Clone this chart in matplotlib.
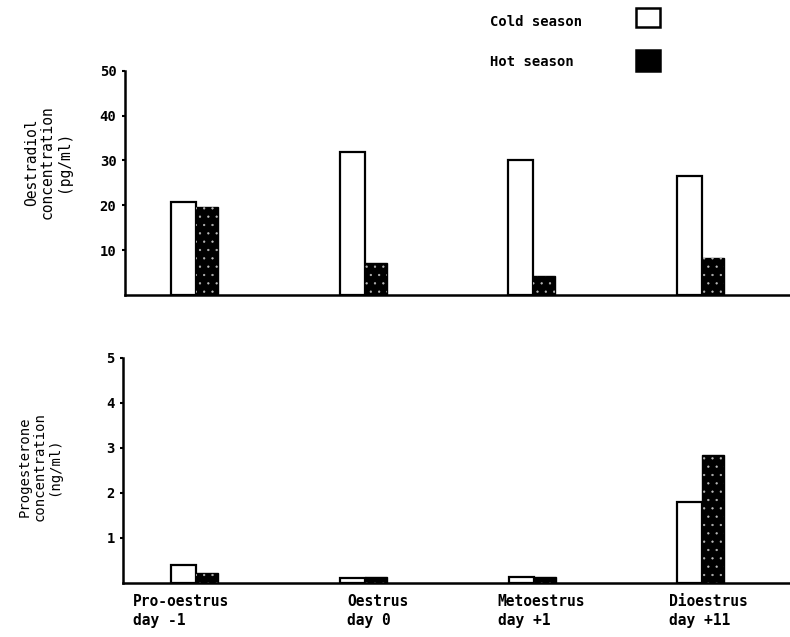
import matplotlib
matplotlib.use("Agg")
import matplotlib.pyplot as plt
from matplotlib.patches import Rectangle
import numpy as np

categories = ["Pro-oestrus\nday -1", "Oestrus\nday 0", "Metoestrus\nday +1", "Dioestrus\nday +11"]
oestradiol_cold = [20.7, 31.8, 30.0, 26.5]
oestradiol_hot = [19.5, 7.2, 4.3, 8.3]
progesterone_cold = [0.40, 0.10, 0.13, 1.80]
progesterone_hot = [0.22, 0.12, 0.14, 2.85]
top_ticks = [10, 20, 30, 40, 50]
bottom_ticks = [1, 2, 3, 4, 5]

FONT = "DejaVu Sans Mono"
plt.rcParams["hatch.linewidth"] = 0.4

fig = plt.figure(figsize=(7.9, 6.37), dpi=100)
ax1 = fig.add_axes([0.158, 0.537, 0.842, 0.352])
ax2 = fig.add_axes([0.156, 0.085, 0.844, 0.353])

x = np.arange(len(categories))
wc, wh = 0.148, 0.13
label_shift = [-0.373, -0.107, -0.213, -0.2]

def draw(ax, cold, hot, ylim, ticks, xl):
    ax.bar(x, cold, width=-wc, align="edge", facecolor="white", edgecolor="black", linewidth=1.6)
    ax.bar(x, hot, width=wh, align="edge", facecolor="black", edgecolor="black", linewidth=1.0)
    ax.bar(x, hot, width=wh, align="edge", facecolor="none", edgecolor="#bbbbbb", linewidth=0, hatch="..")
    ax.set_ylim(0, ylim)
    ax.set_xlim(*xl)
    ax.set_yticks(ticks)
    ax.set_yticklabels([str(t) for t in ticks], fontfamily=FONT, fontweight="bold", fontsize=10)
    ax.tick_params(axis="y", length=2, width=1.5, pad=4)
    ax.tick_params(axis="x", length=0)
    for s in ["top", "right"]:
        ax.spines[s].set_visible(False)
    for s in ["left", "bottom"]:
        ax.spines[s].set_linewidth(1.8)

draw(ax1, oestradiol_cold, oestradiol_hot, 50, top_ticks, (-0.421, 3.52))
ax1.set_xticks([])
draw(ax2, progesterone_cold, progesterone_hot, 5, bottom_ticks, (-0.433, 3.52))
ax2.set_xticks(x + np.array(label_shift))
ax2.set_xticklabels(categories, fontfamily=FONT, fontweight="bold", fontsize=10.5,
                    ha="left", linespacing=1.3)
ax2.tick_params(axis="x", pad=8)

fig.text(0.060, 0.746, "Oestradiol\nconcentration\n(pg/ml)", rotation=90, ha="center", va="center",
         fontfamily=FONT, fontsize=10.5, linespacing=1.1)
fig.text(0.050, 0.268, "Progesterone\nconcentration\n(ng/ml)", rotation=90, ha="center", va="center",
         fontfamily=FONT, fontsize=10, linespacing=1.1)

# legend
fig.text(0.620, 0.965, "Cold season", fontfamily=FONT, fontweight="bold", fontsize=10, va="center")
fig.text(0.620, 0.903, "Hot season", fontfamily=FONT, fontweight="bold", fontsize=10, va="center")
fig.patches.append(Rectangle((0.805, 0.958), 0.030, 0.030, transform=fig.transFigure,
                             facecolor="white", edgecolor="black", linewidth=1.8))
fig.patches.append(Rectangle((0.805, 0.889), 0.030, 0.032, transform=fig.transFigure,
                             facecolor="black", edgecolor="black", linewidth=1.8))

fig.savefig("out.png", dpi=100)
